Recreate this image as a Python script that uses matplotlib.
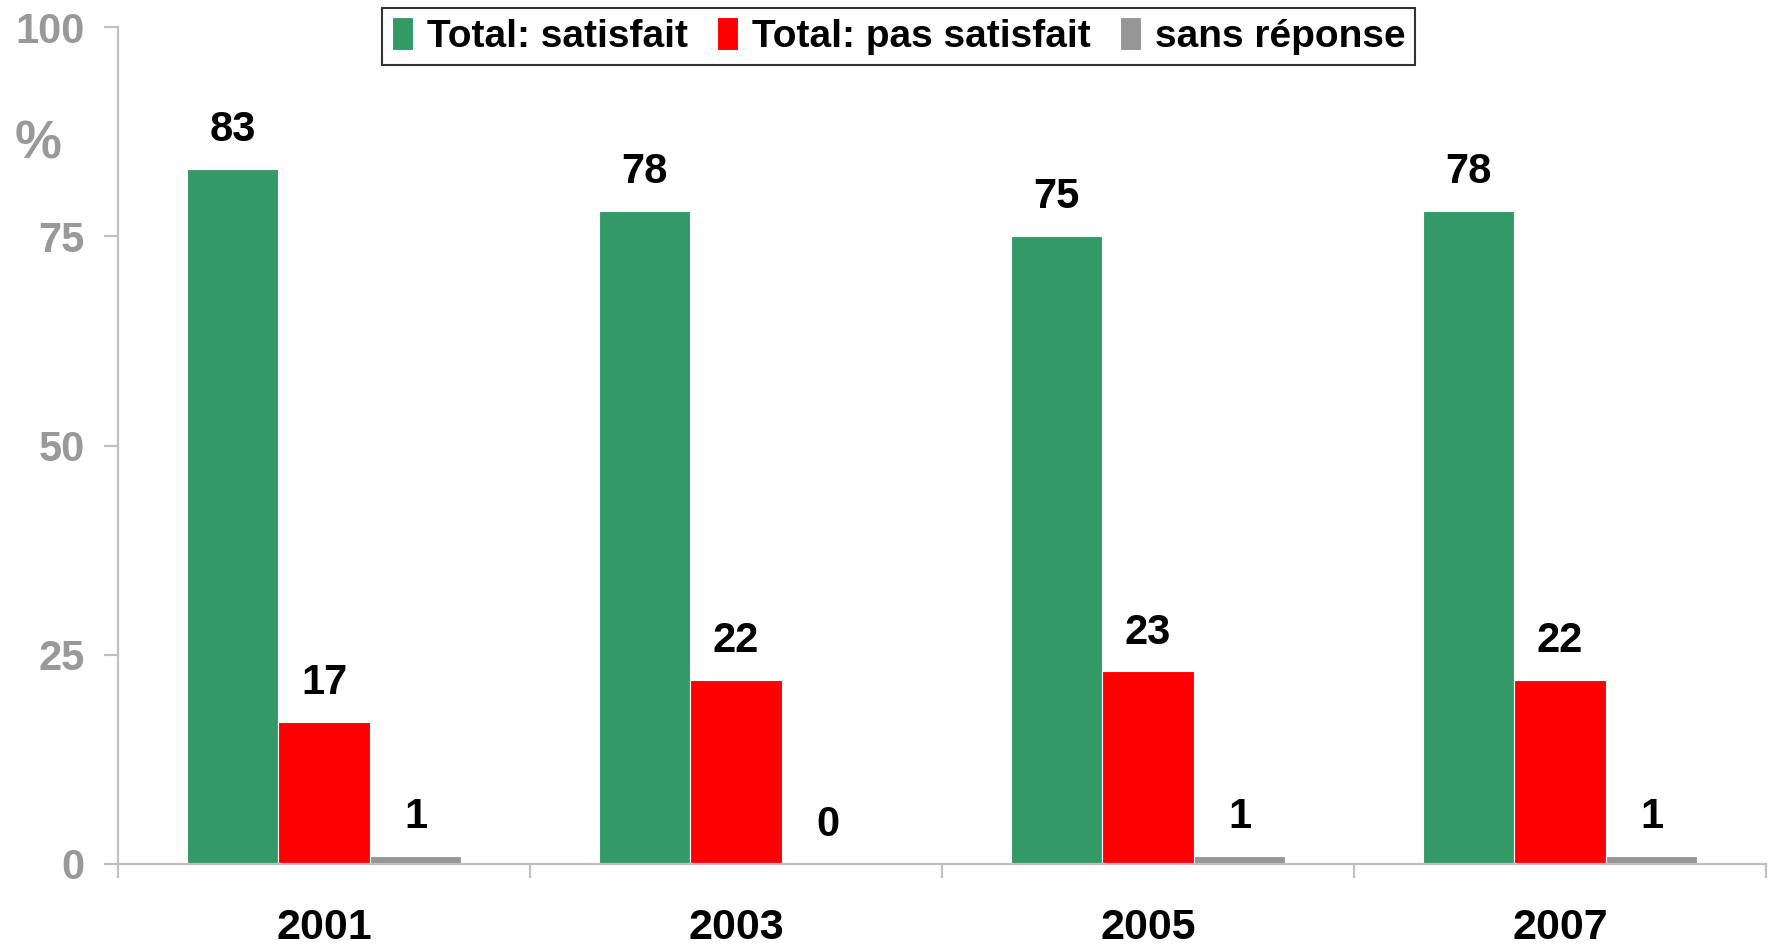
import matplotlib
matplotlib.use("Agg")
import matplotlib.pyplot as plt
import numpy as np

plt.rcParams['font.family'] = ['Liberation Sans', 'DejaVu Sans']
plt.rcParams['font.weight'] = 'bold'

# Données
annees = ['2001', '2003', '2005', '2007']
satisfait = [83, 78, 75, 78]
pas_satisfait = [17, 22, 23, 22]
sans_reponse = [1, 0, 1, 1]

series = [
    ('Total: satisfait', satisfait, '#339966'),
    ('Total: pas satisfait', pas_satisfait, '#FF0000'),
    ('sans réponse', sans_reponse, '#969696'),
]

fig = plt.figure(figsize=(17.72, 9.49), dpi=100)
ax = fig.add_axes([0.0666, 0.0896, 0.93, 0.8819])

x = np.arange(len(annees))
w = 0.222
for i, (nom, vals, col) in enumerate(series):
    pos = x + (i - 1) * w
    ax.bar(pos, vals, width=w, color=col, edgecolor='white', linewidth=0.8, label=nom, zorder=2)
    for p, v in zip(pos, vals):
        ax.annotate(str(v), (p, v), xytext=(0, 28), textcoords='offset points',
                    ha='center', va='center', fontsize=30, fontweight='bold', color='black')

ax.set_xlim(-0.5, len(annees) - 0.5)
ax.set_ylim(0, 100)

# axes
for s in ['top', 'right']:
    ax.spines[s].set_visible(False)
for s in ['left', 'bottom']:
    ax.spines[s].set_color('#c0c0c0')
    ax.spines[s].set_linewidth(1.6)

ax.set_yticks([0, 25, 50, 75, 100])
ax.tick_params(axis='y', direction='out', length=10, width=1.6, color='#c0c0c0',
               labelsize=30, labelcolor='#999999', pad=14)
for lab in ax.get_yticklabels():
    lab.set_fontweight('bold')

ax.set_xticks(x)
ax.set_xticklabels(annees, fontsize=31, fontweight='bold')
ax.tick_params(axis='x', which='major', length=0, pad=32)
ax.set_xticks(np.arange(len(annees) + 1) - 0.5, minor=True)
ax.tick_params(axis='x', which='minor', direction='out', length=10, width=1.6, color='#c0c0c0')

# unité
ax.text(-0.0485, 86, '%', transform=ax.get_yaxis_transform(), fontsize=38,
        fontweight='bold', color='#999999', ha='center', va='center', clip_on=False)

leg = fig.legend(loc='upper center', bbox_to_anchor=(0.507, 0.992), ncol=3,
                 fontsize=28, frameon=True, fancybox=False, edgecolor='black',
                 handlelength=0.55, handleheight=0.9, handletextpad=0.35,
                 columnspacing=0.75, borderpad=0.25, borderaxespad=0)
leg.get_frame().set_linewidth(1.5)
for t in leg.get_texts():
    t.set_fontweight('bold')

fig.savefig('out.png', dpi=100)
